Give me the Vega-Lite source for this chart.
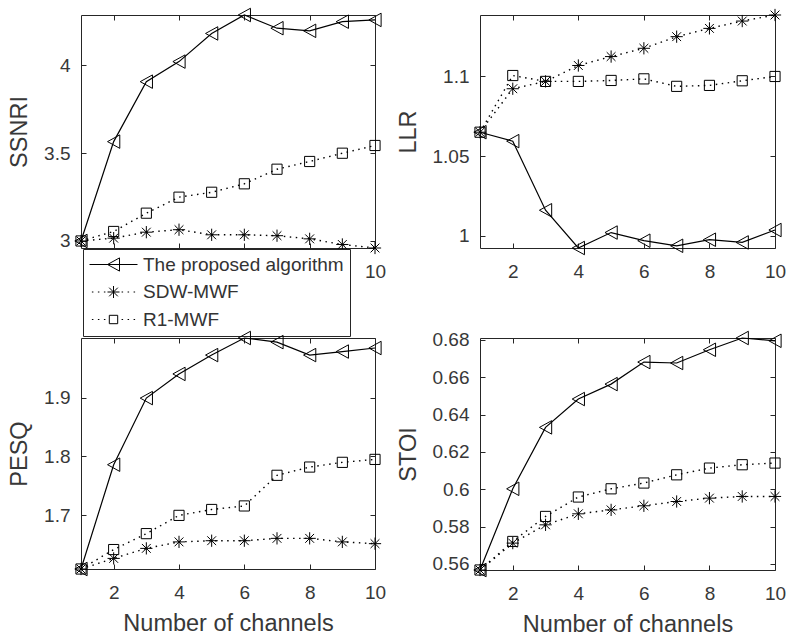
{
  "$schema": "https://vega.github.io/schema/vega-lite/v6.json",
  "padding": {"left": 7, "top": 5, "right": 5, "bottom": 5},
  "background": "white",
  "datasets": {
    "d": [
      {"m":"SSNRI","s":"The proposed algorithm","n":1,"v":3.0},
      {"m":"SSNRI","s":"The proposed algorithm","n":2,"v":3.565},
      {"m":"SSNRI","s":"The proposed algorithm","n":3,"v":3.906},
      {"m":"SSNRI","s":"The proposed algorithm","n":4,"v":4.02},
      {"m":"SSNRI","s":"The proposed algorithm","n":5,"v":4.18},
      {"m":"SSNRI","s":"The proposed algorithm","n":6,"v":4.285},
      {"m":"SSNRI","s":"The proposed algorithm","n":7,"v":4.21},
      {"m":"SSNRI","s":"The proposed algorithm","n":8,"v":4.195},
      {"m":"SSNRI","s":"The proposed algorithm","n":9,"v":4.247},
      {"m":"SSNRI","s":"The proposed algorithm","n":10,"v":4.257},
      {"m":"SSNRI","s":"SDW-MWF","n":1,"v":3.0},
      {"m":"SSNRI","s":"SDW-MWF","n":2,"v":3.016},
      {"m":"SSNRI","s":"SDW-MWF","n":3,"v":3.05},
      {"m":"SSNRI","s":"SDW-MWF","n":4,"v":3.064},
      {"m":"SSNRI","s":"SDW-MWF","n":5,"v":3.035},
      {"m":"SSNRI","s":"SDW-MWF","n":6,"v":3.035},
      {"m":"SSNRI","s":"SDW-MWF","n":7,"v":3.03},
      {"m":"SSNRI","s":"SDW-MWF","n":8,"v":3.012},
      {"m":"SSNRI","s":"SDW-MWF","n":9,"v":2.98},
      {"m":"SSNRI","s":"SDW-MWF","n":10,"v":2.96},
      {"m":"SSNRI","s":"R1-MWF","n":1,"v":3.0},
      {"m":"SSNRI","s":"R1-MWF","n":2,"v":3.054},
      {"m":"SSNRI","s":"R1-MWF","n":3,"v":3.158},
      {"m":"SSNRI","s":"R1-MWF","n":4,"v":3.249},
      {"m":"SSNRI","s":"R1-MWF","n":5,"v":3.277},
      {"m":"SSNRI","s":"R1-MWF","n":6,"v":3.325},
      {"m":"SSNRI","s":"R1-MWF","n":7,"v":3.408},
      {"m":"SSNRI","s":"R1-MWF","n":8,"v":3.452},
      {"m":"SSNRI","s":"R1-MWF","n":9,"v":3.499},
      {"m":"SSNRI","s":"R1-MWF","n":10,"v":3.543},

      {"m":"LLR","s":"The proposed algorithm","n":1,"v":1.065},
      {"m":"LLR","s":"The proposed algorithm","n":2,"v":1.0594},
      {"m":"LLR","s":"The proposed algorithm","n":3,"v":1.016},
      {"m":"LLR","s":"The proposed algorithm","n":4,"v":0.9923},
      {"m":"LLR","s":"The proposed algorithm","n":5,"v":1.002},
      {"m":"LLR","s":"The proposed algorithm","n":6,"v":0.9969},
      {"m":"LLR","s":"The proposed algorithm","n":7,"v":0.9937},
      {"m":"LLR","s":"The proposed algorithm","n":8,"v":0.9975},
      {"m":"LLR","s":"The proposed algorithm","n":9,"v":0.9958},
      {"m":"LLR","s":"The proposed algorithm","n":10,"v":1.0036},
      {"m":"LLR","s":"SDW-MWF","n":1,"v":1.065},
      {"m":"LLR","s":"SDW-MWF","n":2,"v":1.0923},
      {"m":"LLR","s":"SDW-MWF","n":3,"v":1.0969},
      {"m":"LLR","s":"SDW-MWF","n":4,"v":1.1069},
      {"m":"LLR","s":"SDW-MWF","n":5,"v":1.1125},
      {"m":"LLR","s":"SDW-MWF","n":6,"v":1.1177},
      {"m":"LLR","s":"SDW-MWF","n":7,"v":1.125},
      {"m":"LLR","s":"SDW-MWF","n":8,"v":1.1302},
      {"m":"LLR","s":"SDW-MWF","n":9,"v":1.1348},
      {"m":"LLR","s":"SDW-MWF","n":10,"v":1.1386},
      {"m":"LLR","s":"R1-MWF","n":1,"v":1.065},
      {"m":"LLR","s":"R1-MWF","n":2,"v":1.1006},
      {"m":"LLR","s":"R1-MWF","n":3,"v":1.0969},
      {"m":"LLR","s":"R1-MWF","n":4,"v":1.0969},
      {"m":"LLR","s":"R1-MWF","n":5,"v":1.0975},
      {"m":"LLR","s":"R1-MWF","n":6,"v":1.0985},
      {"m":"LLR","s":"R1-MWF","n":7,"v":1.0938},
      {"m":"LLR","s":"R1-MWF","n":8,"v":1.0944},
      {"m":"LLR","s":"R1-MWF","n":9,"v":1.0973},
      {"m":"LLR","s":"R1-MWF","n":10,"v":1.1},

      {"m":"PESQ","s":"The proposed algorithm","n":1,"v":1.609},
      {"m":"PESQ","s":"The proposed algorithm","n":2,"v":1.786},
      {"m":"PESQ","s":"The proposed algorithm","n":3,"v":1.899},
      {"m":"PESQ","s":"The proposed algorithm","n":4,"v":1.94},
      {"m":"PESQ","s":"The proposed algorithm","n":5,"v":1.972},
      {"m":"PESQ","s":"The proposed algorithm","n":6,"v":2.001},
      {"m":"PESQ","s":"The proposed algorithm","n":7,"v":1.994},
      {"m":"PESQ","s":"The proposed algorithm","n":8,"v":1.972},
      {"m":"PESQ","s":"The proposed algorithm","n":9,"v":1.978},
      {"m":"PESQ","s":"The proposed algorithm","n":10,"v":1.984},
      {"m":"PESQ","s":"SDW-MWF","n":1,"v":1.609},
      {"m":"PESQ","s":"SDW-MWF","n":2,"v":1.627},
      {"m":"PESQ","s":"SDW-MWF","n":3,"v":1.644},
      {"m":"PESQ","s":"SDW-MWF","n":4,"v":1.655},
      {"m":"PESQ","s":"SDW-MWF","n":5,"v":1.657},
      {"m":"PESQ","s":"SDW-MWF","n":6,"v":1.657},
      {"m":"PESQ","s":"SDW-MWF","n":7,"v":1.661},
      {"m":"PESQ","s":"SDW-MWF","n":8,"v":1.661},
      {"m":"PESQ","s":"SDW-MWF","n":9,"v":1.655},
      {"m":"PESQ","s":"SDW-MWF","n":10,"v":1.652},
      {"m":"PESQ","s":"R1-MWF","n":1,"v":1.609},
      {"m":"PESQ","s":"R1-MWF","n":2,"v":1.642},
      {"m":"PESQ","s":"R1-MWF","n":3,"v":1.669},
      {"m":"PESQ","s":"R1-MWF","n":4,"v":1.7},
      {"m":"PESQ","s":"R1-MWF","n":5,"v":1.71},
      {"m":"PESQ","s":"R1-MWF","n":6,"v":1.716},
      {"m":"PESQ","s":"R1-MWF","n":7,"v":1.768},
      {"m":"PESQ","s":"R1-MWF","n":8,"v":1.782},
      {"m":"PESQ","s":"R1-MWF","n":9,"v":1.79},
      {"m":"PESQ","s":"R1-MWF","n":10,"v":1.795},

      {"m":"STOI","s":"The proposed algorithm","n":1,"v":0.5567},
      {"m":"STOI","s":"The proposed algorithm","n":2,"v":0.6002},
      {"m":"STOI","s":"The proposed algorithm","n":3,"v":0.6331},
      {"m":"STOI","s":"The proposed algorithm","n":4,"v":0.6483},
      {"m":"STOI","s":"The proposed algorithm","n":5,"v":0.6563},
      {"m":"STOI","s":"The proposed algorithm","n":6,"v":0.6681},
      {"m":"STOI","s":"The proposed algorithm","n":7,"v":0.6676},
      {"m":"STOI","s":"The proposed algorithm","n":8,"v":0.6747},
      {"m":"STOI","s":"The proposed algorithm","n":9,"v":0.681},
      {"m":"STOI","s":"The proposed algorithm","n":10,"v":0.6795},
      {"m":"STOI","s":"SDW-MWF","n":1,"v":0.5567},
      {"m":"STOI","s":"SDW-MWF","n":2,"v":0.5711},
      {"m":"STOI","s":"SDW-MWF","n":3,"v":0.5809},
      {"m":"STOI","s":"SDW-MWF","n":4,"v":0.5868},
      {"m":"STOI","s":"SDW-MWF","n":5,"v":0.5889},
      {"m":"STOI","s":"SDW-MWF","n":6,"v":0.5911},
      {"m":"STOI","s":"SDW-MWF","n":7,"v":0.5934},
      {"m":"STOI","s":"SDW-MWF","n":8,"v":0.5952},
      {"m":"STOI","s":"SDW-MWF","n":9,"v":0.5961},
      {"m":"STOI","s":"SDW-MWF","n":10,"v":0.5961},
      {"m":"STOI","s":"R1-MWF","n":1,"v":0.5567},
      {"m":"STOI","s":"R1-MWF","n":2,"v":0.572},
      {"m":"STOI","s":"R1-MWF","n":3,"v":0.5854},
      {"m":"STOI","s":"R1-MWF","n":4,"v":0.5958},
      {"m":"STOI","s":"R1-MWF","n":5,"v":0.6002},
      {"m":"STOI","s":"R1-MWF","n":6,"v":0.6033},
      {"m":"STOI","s":"R1-MWF","n":7,"v":0.6077},
      {"m":"STOI","s":"R1-MWF","n":8,"v":0.6113},
      {"m":"STOI","s":"R1-MWF","n":9,"v":0.6131},
      {"m":"STOI","s":"R1-MWF","n":10,"v":0.614}
    ]
  },
  "data": {"name": "d"},
  "config": {
    "font": "Liberation Sans",
    "view": {"stroke": "#262626", "strokeWidth": 1},
    "axis": {
      "domain": false, "grid": false, "tickSize": -5, "tickColor": "#262626", "tickWidth": 1,
      "labelFont": "Liberation Sans", "labelFontSize": 19, "labelColor": "#383838",
      "titleFont": "Liberation Sans", "titleFontSize": 23.5, "titleFontWeight": "normal", "titleColor": "#383838",
      "labelFlush": false, "labelOverlap": false
    },
    "axisX": {"labelPadding": 19, "titlePadding": 9},
    "axisY": {"labelPadding": 16, "titlePadding": 12, "labelExpr": "'' + datum.value"},
    "line": {"color": "black", "strokeWidth": 1.2},
    "point": {"filled": false, "color": "black", "strokeWidth": 1, "size": 150, "opacity": 1}
  },
  "columns": 2,
  "spacing": {"row": 90, "column": 105},
  "bounds": "flush",
  "resolve": {"scale": {"shape": "independent"}, "legend": {"shape": "independent"}},
  "concat": [
    {
      "width": 294, "height": 233,
      "transform": [{"filter": "datum.m === 'SSNRI'"}],
      "encoding": {
        "x": {"field": "n", "type": "quantitative", "scale": {"domain": [1, 10], "nice": false}, "axis": {"title": null, "values": [2, 4, 6, 8, 10], "labelExpr": "datum.value == 10 ? '10' : ''"}},
        "y": {"field": "v", "type": "quantitative", "scale": {"zero": false, "nice": false}, "axis": {"title": "SSNRI", "values": [3, 3.5, 4]}}
      },
      "layer": [
        {"transform": [{"filter": "datum.s === 'The proposed algorithm'"}], "mark": {"type": "line"}, "encoding": {}},
        {"transform": [{"filter": "datum.s !== 'The proposed algorithm'"}], "mark": {"type": "line", "strokeDash": [1.5, 4.5], "strokeWidth": 1.4},
         "encoding": {"x": {"field": "n", "type": "quantitative", "axis": null}, "y": {"field": "v", "type": "quantitative", "axis": null}, "detail": {"field": "s", "type": "nominal"}}},
        {"mark": {"type": "point"},
         "encoding": {
           "x": {"field": "n", "type": "quantitative", "axis": {"orient": "top", "labels": false, "title": null, "values": [2, 4, 6, 8, 10]}},
           "y": {"field": "v", "type": "quantitative", "axis": {"orient": "right", "labels": false, "title": null, "values": [3, 3.5, 4]}},
           "shape": {"field": "s", "type": "nominal",
             "scale": {"domain": ["The proposed algorithm", "SDW-MWF", "R1-MWF"], "range": ["M-1,0L1,-1.1L1,1.1Z", "M-1,0L1,0M0,-1L0,1M-0.72,-0.72L0.72,0.72M-0.72,0.72L0.72,-0.72", "M-0.83,-0.83L0.83,-0.83L0.83,0.83L-0.83,0.83Z"]},
             "legend": null}
         }},
        {"transform": [{"filter": "datum.n > 100"}], "mark": {"type": "point"},
         "encoding": {
           "x": {"field": "n", "type": "quantitative", "axis": null},
           "y": {"field": "v", "type": "quantitative", "axis": null},
           "shape": {"field": "s", "type": "nominal",
             "scale": {"domain": ["The proposed algorithm", "SDW-MWF", "R1-MWF"], "range": ["M-4,0L4,0M-1,0L1,-1.1L1,1.1Z", "M-3.6,0L-3.35,0M-2.6,0L-2.35,0M-1.6,0L-1.35,0M1.35,0L1.6,0M2.35,0L2.6,0M3.35,0L3.6,0M-1,0L1,0M0,-1L0,1M-0.72,-0.72L0.72,0.72M-0.72,0.72L0.72,-0.72", "M-3.6,0L-3.35,0M-2.6,0L-2.35,0M-1.6,0L-1.35,0M1.35,0L1.6,0M2.35,0L2.6,0M3.35,0L3.6,0M-0.7,-0.7L0.7,-0.7L0.7,0.7L-0.7,0.7Z"]},
             "legend": {"title": null, "orient": "none", "legendX": 2, "legendY": 234, "fillColor": "white", "strokeColor": "#262626",
               "padding": 6, "rowPadding": 7.5, "labelFontSize": 19, "labelFont": "Liberation Sans", "labelColor": "#333333", "labelLimit": 400,
               "symbolSize": 144, "symbolStrokeWidth": 1.2, "symbolStrokeColor": "black", "symbolFillColor": "transparent", "symbolOffset": 15, "labelOffset": 20}
           }
         }}
      ],
      "resolve": {"axis": {"x": "independent", "y": "independent"}, "scale": {"shape": "independent"}, "legend": {"shape": "independent"}}
    },
    {
      "width": 295, "height": 233,
      "transform": [{"filter": "datum.m === 'LLR'"}],
      "encoding": {
        "x": {"field": "n", "type": "quantitative", "scale": {"domain": [1, 10], "nice": false}, "axis": {"title": null, "values": [2, 4, 6, 8, 10]}},
        "y": {"field": "v", "type": "quantitative", "scale": {"zero": false, "nice": false}, "axis": {"title": "LLR", "values": [1, 1.05, 1.1]}}
      },
      "layer": [
        {"transform": [{"filter": "datum.s === 'The proposed algorithm'"}], "mark": {"type": "line"}, "encoding": {}},
        {"transform": [{"filter": "datum.s !== 'The proposed algorithm'"}], "mark": {"type": "line", "strokeDash": [1.5, 4.5], "strokeWidth": 1.4},
         "encoding": {"x": {"field": "n", "type": "quantitative", "axis": null}, "y": {"field": "v", "type": "quantitative", "axis": null}, "detail": {"field": "s", "type": "nominal"}}},
        {"mark": {"type": "point"},
         "encoding": {
           "x": {"field": "n", "type": "quantitative", "axis": {"orient": "top", "labels": false, "title": null, "values": [2, 4, 6, 8, 10]}},
           "y": {"field": "v", "type": "quantitative", "axis": {"orient": "right", "labels": false, "title": null, "values": [1, 1.05, 1.1]}},
           "shape": {"field": "s", "type": "nominal",
             "scale": {"domain": ["The proposed algorithm", "SDW-MWF", "R1-MWF"], "range": ["M-1,0L1,-1.1L1,1.1Z", "M-1,0L1,0M0,-1L0,1M-0.72,-0.72L0.72,0.72M-0.72,0.72L0.72,-0.72", "M-0.83,-0.83L0.83,-0.83L0.83,0.83L-0.83,0.83Z"]},
             "legend": null}
         }}
      ],
      "resolve": {"axis": {"x": "independent", "y": "independent"}}
    },
    {
      "width": 294, "height": 231,
      "transform": [{"filter": "datum.m === 'PESQ'"}],
      "encoding": {
        "x": {"field": "n", "type": "quantitative", "scale": {"domain": [1, 10], "nice": false}, "axis": {"title": "Number of channels", "values": [2, 4, 6, 8, 10]}},
        "y": {"field": "v", "type": "quantitative", "scale": {"zero": false, "nice": false}, "axis": {"title": "PESQ", "values": [1.7, 1.8, 1.9]}}
      },
      "layer": [
        {"transform": [{"filter": "datum.s === 'The proposed algorithm'"}], "mark": {"type": "line"}, "encoding": {}},
        {"transform": [{"filter": "datum.s !== 'The proposed algorithm'"}], "mark": {"type": "line", "strokeDash": [1.5, 4.5], "strokeWidth": 1.4},
         "encoding": {"x": {"field": "n", "type": "quantitative", "axis": null}, "y": {"field": "v", "type": "quantitative", "axis": null}, "detail": {"field": "s", "type": "nominal"}}},
        {"mark": {"type": "point"},
         "encoding": {
           "x": {"field": "n", "type": "quantitative", "axis": {"orient": "top", "labels": false, "title": null, "values": [2, 4, 6, 8, 10]}},
           "y": {"field": "v", "type": "quantitative", "axis": {"orient": "right", "labels": false, "title": null, "values": [1.7, 1.8, 1.9]}},
           "shape": {"field": "s", "type": "nominal",
             "scale": {"domain": ["The proposed algorithm", "SDW-MWF", "R1-MWF"], "range": ["M-1,0L1,-1.1L1,1.1Z", "M-1,0L1,0M0,-1L0,1M-0.72,-0.72L0.72,0.72M-0.72,0.72L0.72,-0.72", "M-0.83,-0.83L0.83,-0.83L0.83,0.83L-0.83,0.83Z"]},
             "legend": null}
         }}
      ],
      "resolve": {"axis": {"x": "independent", "y": "independent"}}
    },
    {
      "width": 295, "height": 232,
      "transform": [{"filter": "datum.m === 'STOI'"}],
      "encoding": {
        "x": {"field": "n", "type": "quantitative", "scale": {"domain": [1, 10], "nice": false}, "axis": {"title": "Number of channels", "values": [2, 4, 6, 8, 10]}},
        "y": {"field": "v", "type": "quantitative", "scale": {"zero": false, "nice": false}, "axis": {"title": "STOI", "values": [0.56, 0.58, 0.6, 0.62, 0.64, 0.66, 0.68]}}
      },
      "layer": [
        {"transform": [{"filter": "datum.s === 'The proposed algorithm'"}], "mark": {"type": "line"}, "encoding": {}},
        {"transform": [{"filter": "datum.s !== 'The proposed algorithm'"}], "mark": {"type": "line", "strokeDash": [1.5, 4.5], "strokeWidth": 1.4},
         "encoding": {"x": {"field": "n", "type": "quantitative", "axis": null}, "y": {"field": "v", "type": "quantitative", "axis": null}, "detail": {"field": "s", "type": "nominal"}}},
        {"mark": {"type": "point"},
         "encoding": {
           "x": {"field": "n", "type": "quantitative", "axis": {"orient": "top", "labels": false, "title": null, "values": [2, 4, 6, 8, 10]}},
           "y": {"field": "v", "type": "quantitative", "axis": {"orient": "right", "labels": false, "title": null, "values": [0.56, 0.58, 0.6, 0.62, 0.64, 0.66, 0.68]}},
           "shape": {"field": "s", "type": "nominal",
             "scale": {"domain": ["The proposed algorithm", "SDW-MWF", "R1-MWF"], "range": ["M-1,0L1,-1.1L1,1.1Z", "M-1,0L1,0M0,-1L0,1M-0.72,-0.72L0.72,0.72M-0.72,0.72L0.72,-0.72", "M-0.83,-0.83L0.83,-0.83L0.83,0.83L-0.83,0.83Z"]},
             "legend": null}
         }}
      ],
      "resolve": {"axis": {"x": "independent", "y": "independent"}}
    }
  ]
}
